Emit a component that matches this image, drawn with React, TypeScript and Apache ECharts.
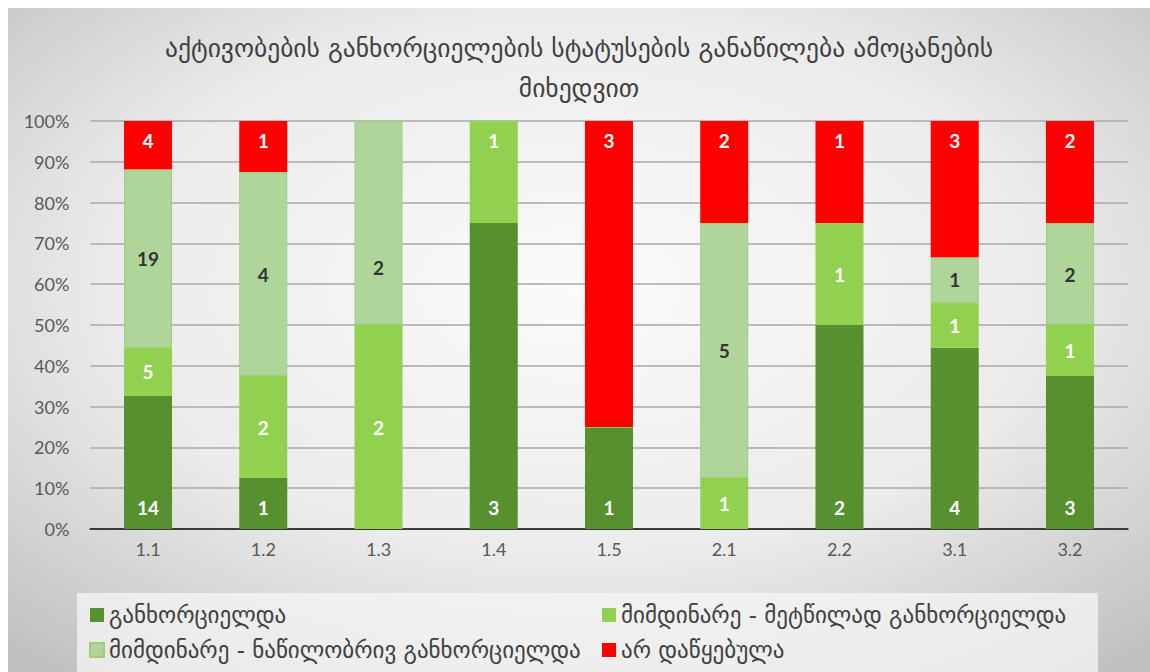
import React, { useEffect, useRef } from "react";
import * as echarts from "echarts";

const categories = ["1.1", "1.2", "1.3", "1.4", "1.5", "2.1", "2.2", "3.1", "3.2"];
const seriesNames = [
  "განხორციელდა",
  "მიმდინარე - მეტწილად განხორციელდა",
  "მიმდინარე - ნაწილობრივ განხორციელდა",
  "არ დაწყებულა",
];
// counts shown as labels
const doneCounts = [14, 1, 0, 3, 1, 0, 2, 4, 3];
const mostlyCounts = [5, 2, 2, 1, 0, 1, 1, 1, 1];
const partlyCounts = [19, 4, 2, 0, 0, 5, 0, 1, 2];
const notStartedCounts = [4, 1, 0, 0, 3, 2, 1, 3, 2];
// shares (%)
const doneShare = [32.6, 12.5, 0, 75, 25, 0, 50, 44.4, 37.5];
const mostlyShare = [11.8, 25, 50, 25, 0, 12.5, 25, 11.1, 12.5];
const partlyShare = [43.8, 50, 50, 0, 0, 62.5, 0, 11.1, 25];
const notStartedShare = [11.8, 12.5, 0, 0, 75, 25, 25, 33.4, 25];
const yTicks = ["0%", "10%", "20%", "30%", "40%", "50%", "60%", "70%", "80%", "90%", "100%"];

const title = "აქტივობების განხორციელების სტატუსების განაწილება ამოცანების\nმიხედვით";

export default function App() {
  const ref = useRef<HTMLDivElement>(null);
  useEffect(() => {
    if (!ref.current) return;
    const chart = echarts.init(ref.current, null, { renderer: "svg" });
    const labelBase = {
      show: true,
      fontFamily: "Lato",
      fontWeight: "bold" as const,
      fontSize: 19,
      color: "#ffffff",
    };
    const mkData = (share: number[], counts: number[], overrides: Record<number, any> = {}) =>
      share.map((v, i) => {
        const item: any = { value: v, count: counts[i] };
        if (overrides[i]) item.label = overrides[i];
        return item;
      });
    const fmt = (p: any) => (p.data.count ? String(p.data.count) : "");
    const legendText = { fontFamily: "DejaVu Sans", fontSize: 23, color: "#404040", lineHeight: 24 };
    const option: any = {
      animation: false,
      graphic: [
        {
          type: "rect",
          z: -10,
          silent: true,
          shape: { x: 0, y: 0, width: 1142, height: 664 },
          style: {
            fill: new echarts.graphic.RadialGradient(0.5, 0.42, 0.75, [
              { offset: 0, color: "#fbfbfb" },
              { offset: 0.55, color: "#ebebeb" },
              { offset: 1, color: "#bfbfbf" },
            ]),
          },
        },
        {
          type: "rect",
          z: -5,
          silent: true,
          shape: { x: 69, y: 585, width: 1021, height: 90 },
          style: { fill: "rgba(245,245,245,0.75)" },
        },
      ],
      title: {
        text: title,
        left: "center",
        top: 20,
        padding: 0,
        textStyle: {
          fontFamily: "DejaVu Sans",
          fontSize: 25.5,
          fontWeight: "normal",
          color: "#404040",
          lineHeight: 40,
        },
      },
      grid: { left: 82.4, top: 113, width: 1037.2, height: 408 },
      legend: [
        {
          left: 81,
          top: 595,
          padding: 0,
          orient: "vertical",
          data: [seriesNames[0], seriesNames[2]],
          icon: "rect",
          itemWidth: 14,
          itemHeight: 14,
          itemGap: 11,
          selectedMode: false,
          textStyle: legendText,
        },
        {
          left: 594,
          top: 595,
          padding: 0,
          orient: "vertical",
          data: [seriesNames[1], seriesNames[3]],
          icon: "rect",
          itemWidth: 14,
          itemHeight: 14,
          itemGap: 11,
          selectedMode: false,
          textStyle: legendText,
        },
      ],
      xAxis: {
        type: "category",
        data: categories,
        axisTick: { show: false },
        axisLine: { lineStyle: { color: "#3a3a3a", width: 2 } },
        axisLabel: { color: "#595959", fontFamily: "Lato", fontSize: 18, margin: 11 },
      },
      yAxis: {
        type: "value",
        min: 0,
        max: 100,
        interval: 10,
        axisLabel: {
          color: "#595959",
          fontFamily: "Lato",
          fontSize: 18,
          margin: 21,
          formatter: (v: number) => yTicks[Math.round(v / 10)],
        },
        splitLine: { lineStyle: { color: "#a8a8a8", width: 1.5 } },
      },
      series: [
        {
          name: seriesNames[0],
          type: "bar",
          stack: "all",
          barWidth: 48,
          itemStyle: { color: "#56902f" },
          label: { ...labelBase, position: "insideBottom", distance: 12, formatter: fmt },
          data: mkData(doneShare, doneCounts),
        },
        {
          name: seriesNames[1],
          type: "bar",
          stack: "all",
          barWidth: 48,
          itemStyle: { color: "#92d050" },
          label: { ...labelBase, position: "inside", formatter: fmt },
          data: mkData(mostlyShare, mostlyCounts, { 3: { position: "insideTop", distance: 10 } }),
        },
        {
          name: seriesNames[2],
          type: "bar",
          stack: "all",
          barWidth: 48,
          itemStyle: { color: "#afd59b", borderColor: "#9bcf7e", borderWidth: 1 },
          label: { ...labelBase, color: "#333333", position: "inside", formatter: fmt },
          data: mkData(partlyShare, partlyCounts, { 2: { offset: [0, 44] } }),
        },
        {
          name: seriesNames[3],
          type: "bar",
          stack: "all",
          barWidth: 48,
          itemStyle: { color: "#ff0000" },
          label: { ...labelBase, position: "insideTop", distance: 10, formatter: fmt },
          data: mkData(notStartedShare, notStartedCounts),
        },
      ],
    };
    chart.setOption(option);
    return () => chart.dispose();
  }, []);
  return (
    <div
      ref={ref}
      style={{ position: "absolute", left: 8, top: 8, width: 1142, height: 664 }}
    />
  );
}
